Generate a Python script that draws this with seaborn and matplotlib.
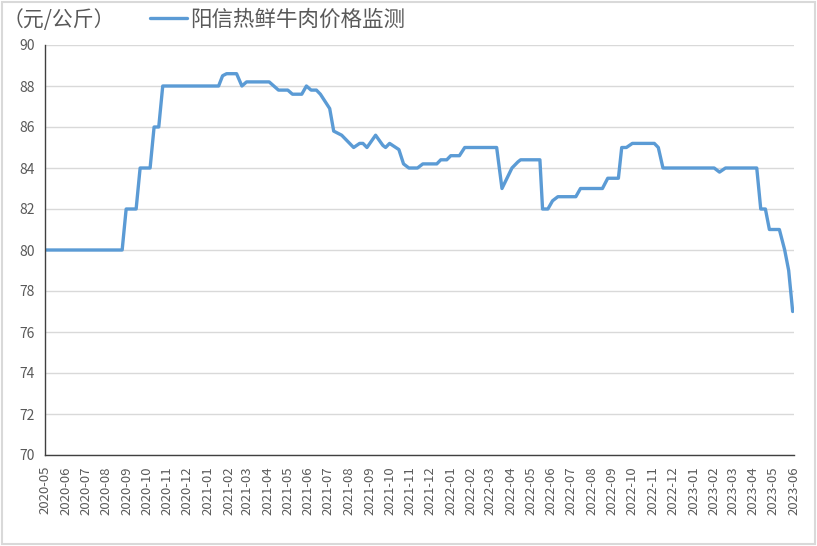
import pandas as pd
import matplotlib
matplotlib.use("Agg")
import matplotlib.pyplot as plt
import matplotlib.dates as mdates
import seaborn as sns

## 阳信热鲜牛肉价格监测

dates = [
    "2020-05-01", "2020-08-25", "2020-08-31", "2020-09-15", "2020-09-21",
    "2020-10-06", "2020-10-12", "2020-10-19", "2020-10-25", "2021-01-17",
    "2021-01-23", "2021-01-29", "2021-02-13", "2021-02-21", "2021-02-28",
    "2021-04-03", "2021-04-17", "2021-05-01", "2021-05-08", "2021-05-22",
    "2021-05-29", "2021-06-05", "2021-06-13", "2021-06-19", "2021-07-03",
    "2021-07-09", "2021-07-21", "2021-08-08", "2021-08-17", "2021-08-22",
    "2021-08-28", "2021-09-10", "2021-09-21", "2021-09-25", "2021-10-01",
    "2021-10-15", "2021-10-22", "2021-10-30", "2021-11-12", "2021-11-20",
    "2021-12-11", "2021-12-17", "2021-12-26", "2022-01-01", "2022-01-14",
    "2022-01-22", "2022-03-11", "2022-03-19", "2022-04-03", "2022-04-12",
    "2022-04-16", "2022-05-15", "2022-05-19", "2022-05-27", "2022-06-03",
    "2022-06-11", "2022-07-08", "2022-07-15", "2022-08-17", "2022-08-25",
    "2022-09-10", "2022-09-15", "2022-09-22", "2022-10-01", "2022-11-03",
    "2022-11-09", "2022-11-16", "2023-02-01", "2023-02-09", "2023-02-18",
    "2023-04-06", "2023-04-12", "2023-04-19", "2023-04-25", "2023-05-10",
    "2023-05-18", "2023-05-24", "2023-05-30",
]
prices = [
    80.0, 80.0, 82.0, 82.0, 84.0,
    84.0, 86.0, 86.0, 88.0, 88.0,
    88.5, 88.6, 88.6, 88.0, 88.2,
    88.2, 87.8, 87.8, 87.6, 87.6,
    88.0, 87.8, 87.8, 87.6, 86.9,
    85.8, 85.6, 85.0, 85.2, 85.2,
    85.0, 85.6, 85.1, 85.0, 85.2,
    84.9, 84.2, 84.0, 84.0, 84.2,
    84.2, 84.4, 84.4, 84.6, 84.6,
    85.0, 85.0, 83.0, 84.0, 84.3,
    84.4, 84.4, 82.0, 82.0, 82.4,
    82.6, 82.6, 83.0, 83.0, 83.5,
    83.5, 85.0, 85.0, 85.2, 85.2,
    85.0, 84.0, 84.0, 83.8, 84.0,
    84.0, 82.0, 82.0, 81.0, 81.0,
    80.0, 79.0, 77.0,
]
series_name = "阳信热鲜牛肉价格监测"
unit_label = "（元/公斤）"
y_ticks = [70, 72, 74, 76, 78, 80, 82, 84, 86, 88, 90]

df = pd.DataFrame({"date": pd.to_datetime(dates), "price": prices})

sns.set_theme(style="white")
plt.rcParams["font.family"] = ["Noto Sans CJK SC", "DejaVu Sans"]

gray = "#595959"
fig = plt.figure(figsize=(8.17, 5.46), dpi=100)
ax = fig.add_axes([45 / 817, 1 - 455 / 546, (794 - 45) / 817, (455 - 45) / 546])

sns.lineplot(data=df, x="date", y="price", ax=ax, color="#5B9BD5",
             linewidth=2.4, label=series_name, legend=False)

ax.set_ylim(70, 90)
ax.set_yticks(y_ticks)
ax.set_xlim(pd.Timestamp("2020-05-01"), pd.Timestamp("2023-06-01"))
ax.xaxis.set_major_locator(mdates.MonthLocator())
ax.xaxis.set_major_formatter(mdates.DateFormatter("%Y-%m"))
plt.setp(ax.get_xticklabels(), rotation=90)

ax.grid(axis="y", color="#d9d9d9", linewidth=1)
ax.set_axisbelow(True)
for side in ["top", "right"]:
    ax.spines[side].set_visible(False)
for side in ["left", "bottom"]:
    ax.spines[side].set_color("#404040")
    ax.spines[side].set_linewidth(1)
ax.tick_params(axis="both", direction="out", length=4, width=1, color="#404040",
               labelcolor=gray, labelsize=10)
ax.tick_params(axis="x", labelsize=9.5, pad=4)
ax.set_xlabel("")
ax.set_ylabel("")

fig.text(3 / 817, 1 - 20 / 546, unit_label, fontsize=15, color=gray,
         ha="left", va="center")
leg = fig.legend(*ax.get_legend_handles_labels(), loc="center left",
                 bbox_to_anchor=(150 / 817, 1 - 20 / 546), frameon=False,
                 fontsize=15.5, handlelength=1.7, handletextpad=0.15,
                 borderaxespad=0, borderpad=0)
for t in leg.get_texts():
    t.set_color(gray)

# outer border of the chart area
fig.patches.append(plt.Rectangle((0.002, 0.003), 0.996, 0.994, transform=fig.transFigure,
                                 fill=False, edgecolor="#d9d9d9", linewidth=1.5))

fig.savefig("out.png", dpi=100)
